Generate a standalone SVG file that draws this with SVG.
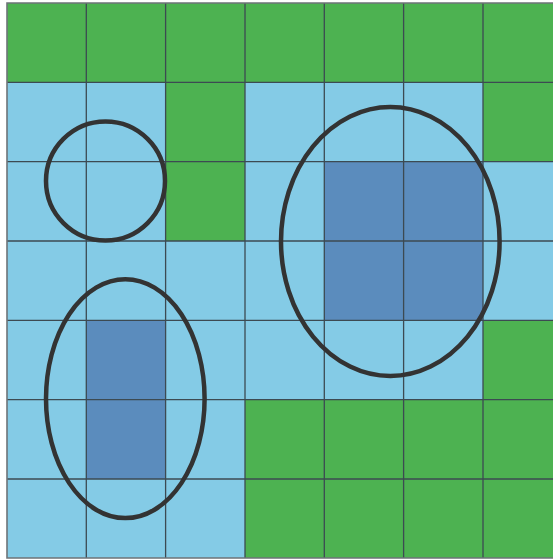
<svg xmlns="http://www.w3.org/2000/svg" width="553" height="559" viewBox="0 0 553 559">
<style>
.g{fill:#4db251}.l{fill:#84cbe6}.d{fill:#5b8cbd}
.grid line{stroke:#3c4a52;stroke-width:1.3}
.ring{fill:none;stroke:#333333;stroke-width:4.5}
</style>
<rect width="553" height="559" fill="#ffffff"/>
<g id="cells">
<rect class="l" x="7" y="3" width="555" height="555"/>
<rect class="g" x="7" y="3" width="555" height="79.3"/>
<rect class="g" x="165.6" y="82.3" width="79.4" height="158.7"/>
<rect class="g" x="483" y="82.3" width="79" height="79.3"/>
<rect class="d" x="324.3" y="161.6" width="158.7" height="158.7"/>
<rect class="d" x="86.3" y="320.3" width="79.3" height="158.7"/>
<rect class="g" x="483" y="320.3" width="79" height="79.3"/>
<rect class="g" x="245" y="399.6" width="317" height="158.4"/>
</g>
<g class="grid" id="grid">
<line x1="86.3" y1="3" x2="86.3" y2="558"/>
<line x1="165.6" y1="3" x2="165.6" y2="558"/>
<line x1="245" y1="3" x2="245" y2="558"/>
<line x1="324.3" y1="3" x2="324.3" y2="558"/>
<line x1="403.6" y1="3" x2="403.6" y2="558"/>
<line x1="483" y1="3" x2="483" y2="558"/>
<line x1="7" y1="82.3" x2="553" y2="82.3"/>
<line x1="7" y1="161.6" x2="553" y2="161.6"/>
<line x1="7" y1="241" x2="553" y2="241"/>
<line x1="7" y1="320.3" x2="553" y2="320.3"/>
<line x1="7" y1="399.6" x2="553" y2="399.6"/>
<line x1="7" y1="479" x2="553" y2="479"/>
</g>
<g id="border" fill="none" stroke="#6e7478" stroke-width="1.6">
<path d="M553 3H7V558H553"/>
</g>
<g id="circle1"><circle class="ring" cx="105.5" cy="181" r="59.5"/></g>
<g id="ellipse1"><ellipse class="ring" cx="125.3" cy="398.7" rx="79.3" ry="119.4"/></g>
<g id="ellipse2"><ellipse class="ring" cx="390.3" cy="241.5" rx="109.3" ry="134.5"/></g>
</svg>
